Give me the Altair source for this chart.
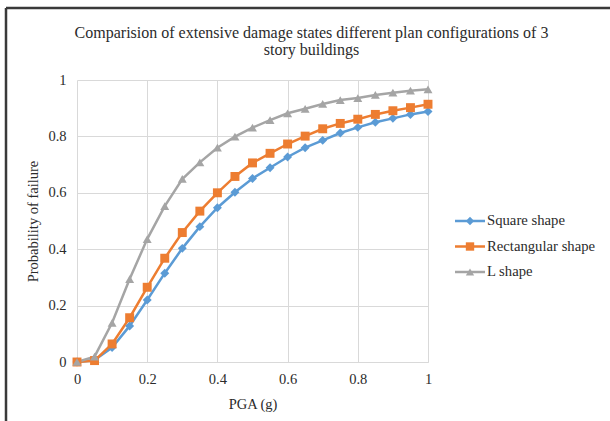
import altair as alt
import pandas as pd

# ---- data ----
pga = [0, 0.05, 0.1, 0.15, 0.2, 0.25, 0.3, 0.35, 0.4, 0.45, 0.5,
       0.55, 0.6, 0.65, 0.7, 0.75, 0.8, 0.85, 0.9, 0.95, 1.0]
square_shape = [0, 0.007, 0.051, 0.128, 0.220, 0.315, 0.403, 0.480, 0.547, 0.602, 0.651,
                0.689, 0.727, 0.760, 0.786, 0.812, 0.832, 0.850, 0.864, 0.878, 0.888]
rect_shape = [0, 0.005, 0.064, 0.157, 0.265, 0.368, 0.459, 0.535, 0.600, 0.658, 0.706,
              0.740, 0.773, 0.801, 0.827, 0.846, 0.861, 0.878, 0.891, 0.902, 0.914]
l_shape = [0, 0.019, 0.139, 0.294, 0.436, 0.553, 0.649, 0.708, 0.760, 0.799, 0.831,
           0.858, 0.882, 0.898, 0.915, 0.929, 0.936, 0.947, 0.955, 0.962, 0.967]

series_names = ["Square shape", "Rectangular shape", "L shape"]
series_colors = ["#5B9BD5", "#ED7D31", "#A5A5A5"]
series_shapes = ["diamond", "square", "triangle-up"]
x_ticks = [0, 0.2, 0.4, 0.6, 0.8, 1]
y_ticks = [0, 0.2, 0.4, 0.6, 0.8, 1]
title_lines = ["Comparision of extensive damage states different plan configurations of 3",
               "story buildings"]

rows = []
for name, vals in zip(series_names, [square_shape, rect_shape, l_shape]):
    for xv, yv in zip(pga, vals):
        rows.append({"series": name, "pga": xv, "prob": yv})
df = pd.DataFrame(rows)
leg_df = pd.DataFrame({"series": series_names})

FONT = "Liberation Serif"
TXT = "#2b2b2b"

color_enc = alt.Color("series:N", scale=alt.Scale(domain=series_names, range=series_colors), legend=None)
shape_enc = alt.Shape("series:N", scale=alt.Scale(domain=series_names, range=series_shapes), legend=None)

x_enc = alt.X("pga:Q", scale=alt.Scale(domain=[0, 1], nice=False),
              axis=alt.Axis(values=x_ticks, format="~g", title="PGA (g)", grid=True,
                            ticks=False, labelPadding=10, titlePadding=12,
                            labelFlush=False, domainColor="#d9d9d9"))
y_enc = alt.Y("prob:Q", scale=alt.Scale(domain=[0, 1], nice=False),
              axis=alt.Axis(values=y_ticks, format="~g", title="Probability of failure",
                            grid=True, ticks=False, domain=False, labelPadding=11,
                            labelFlush=False, titlePadding=7))

lines = alt.Chart(df).mark_line(strokeWidth=2.5).encode(
    x=x_enc, y=y_enc, color=color_enc, order=alt.Order("pga:Q"))
points = alt.Chart(df).mark_point(filled=True, opacity=1, size=80).encode(
    x=x_enc, y=y_enc, color=color_enc, shape=shape_enc)
main = alt.layer(lines, points)

leg_y = alt.Y("series:N", scale=alt.Scale(type="point", domain=series_names,
                                          range=[141, 192], padding=0), axis=None)
leg_rule = alt.Chart(leg_df).mark_rule(strokeWidth=2.5).encode(
    x=alt.value(378), x2=alt.value(408), y=leg_y, color=color_enc)
leg_pts = alt.Chart(leg_df).mark_point(filled=True, opacity=1, size=70).encode(
    x=alt.value(393), y=leg_y, color=color_enc, shape=shape_enc)
leg_txt = alt.Chart(leg_df).mark_text(align="left", baseline="middle", font=FONT,
                                      fontSize=14.7, color=TXT).encode(
    x=alt.value(410), y=leg_y, text="series:N")
legend = alt.layer(leg_rule, leg_pts, leg_txt)

frame_data = alt.Data(values=[{}])
border_top = alt.Chart(frame_data).mark_rule(color="#3a3a3a", strokeWidth=2.5).encode(
    x=alt.value(-71), x2=alt.value(533), y=alt.value(-72))
border_left = alt.Chart(frame_data).mark_rule(color="#3a3a3a", strokeWidth=2.5).encode(
    x=alt.value(-71), y=alt.value(-72), y2=alt.value(341))

chart = alt.layer(main, legend, border_top, border_left).resolve_scale(
    y="independent"
).properties(
    width=351, height=282,
    autosize=alt.AutoSizeParams(type="none"),
    padding={"left": 77, "top": 80, "right": 182, "bottom": 59},
    title=alt.TitleParams(text=title_lines, anchor="middle", dx=59, offset=-51,
                          font=FONT, fontSize=16, fontWeight="normal",
                          color=TXT, lineHeight=17),
).configure_view(stroke=None).configure_axis(
    gridColor="#d9d9d9", gridWidth=1, labelFont=FONT, labelFontSize=14.5,
    labelColor=TXT, titleFont=FONT, titleFontSize=14.5, titleColor=TXT,
    titleFontWeight="normal"
)

chart.save("out.html", embed_options={"renderer": "svg", "actions": False})
